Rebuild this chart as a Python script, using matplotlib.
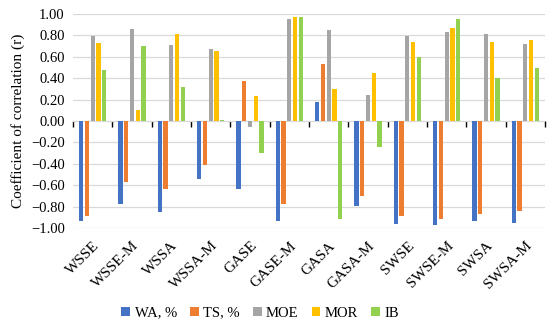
import numpy as np
import matplotlib
matplotlib.use("Agg")
import matplotlib.pyplot as plt

# categories and correlation values
categories = ["WSSE", "WSSE-M", "WSSA", "WSSA-M", "GASE", "GASE-M",
              "GASA", "GASA-M", "SWSE", "SWSE-M", "SWSA", "SWSA-M"]
wa  = [-0.93, -0.78, -0.85, -0.54, -0.64, -0.93, 0.18, -0.79, -0.96, -0.97, -0.93, -0.95]
ts  = [-0.89, -0.57, -0.64, -0.41, 0.37, -0.78, 0.53, -0.70, -0.89, -0.92, -0.87, -0.84]
moe = [0.79, 0.86, 0.71, 0.67, -0.06, 0.95, 0.85, 0.24, 0.79, 0.83, 0.81, 0.72]
mor = [0.73, 0.10, 0.81, 0.65, 0.23, 0.97, 0.30, 0.45, 0.74, 0.87, 0.74, 0.76]
ib  = [0.48, 0.70, 0.32, 0.01, -0.30, 0.97, -0.92, -0.24, 0.60, 0.95, 0.40, 0.50]

series = [("WA, %", wa, "#4472C4"),
          ("TS, %", ts, "#ED7D31"),
          ("MOE", moe, "#A5A5A5"),
          ("MOR", mor, "#FFC000"),
          ("IB", ib, "#92D050")]

plt.rcParams["font.family"] = ["Liberation Serif", "DejaVu Serif"]

fig = plt.figure(figsize=(5.5, 3.31), dpi=100)
ax = fig.add_axes([73 / 550, 1 - 228 / 331, 472 / 550, 214 / 331])

x = np.arange(len(categories))
pitch = 0.148
width = 0.11
for k, (name, vals, col) in enumerate(series):
    ax.bar(x + (k - 2) * pitch, vals, width, color=col, label=name, zorder=3)

ax.set_xlim(-0.5, len(categories) - 0.5)
ax.set_ylim(-1.0, 1.0)
yt = np.arange(-1.0, 1.01, 0.2)
ax.set_yticks(yt)
ax.set_yticklabels([f"{v:.2f}".replace("-", "\u2212") if abs(v) > 1e-9 else "0.00" for v in yt],
                   fontsize=10.5)
ax.yaxis.grid(True, color="#D9D9D9", linewidth=0.9, zorder=0)
ax.tick_params(axis="y", length=0, pad=6)

for s in ax.spines.values():
    s.set_visible(False)

ax.set_xticks(x)
ax.set_xticklabels(categories, rotation=45, ha="right", rotation_mode="anchor", fontsize=11)
ax.tick_params(axis="x", length=0, pad=8)

# zero line with boundary ticks
sec = ax.secondary_xaxis(0.5)
sec.set_xticks(np.arange(-0.5, len(categories), 1.0))
sec.set_xticklabels([])
sec.tick_params(axis="x", direction="out", length=4, width=1, color="black")
sec.spines["bottom"].set_color("black")
sec.spines["bottom"].set_linewidth(1.2)
sec.spines["top"].set_visible(False)
sec.xaxis.set_ticks_position("bottom")

ax.set_ylabel("Coefficient of correlation (r)", fontsize=11, labelpad=4)

fig.legend(loc="lower center", bbox_to_anchor=(0.473, -0.005), ncol=5, frameon=False,
           fontsize=10.5, handlelength=0.6, handleheight=0.6, handletextpad=0.3,
           columnspacing=0.9)

fig.savefig("out.png", dpi=100)
